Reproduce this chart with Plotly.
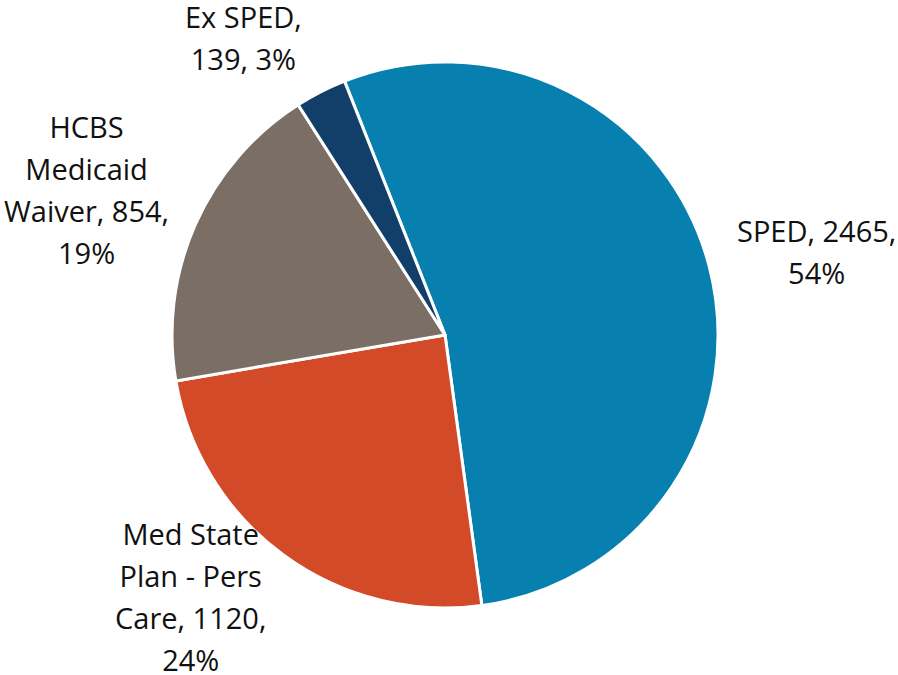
import plotly.graph_objects as go

labels = ["SPED", "Med State Plan - Pers Care", "HCBS Medicaid Waiver", "Ex SPED"]
values = [2465, 1120, 854, 139]
colors = ["#0780AF", "#D24A27", "#7A6E65", "#123F6A"]
# how each data label is broken into lines on the chart
label_templates = ["SPED, {v},<br>{p}%",
                   "Med State<br>Plan - Pers<br>Care, {v},<br>{p}%",
                   "HCBS<br>Medicaid<br>Waiver, {v},<br>{p}%",
                   "Ex SPED,<br>{v}, {p}%"]
# where each data label sits (pixel centre of the text block)
label_pos = [(816, 251), (190, 596), (86, 190), (243, 38)]

W, H = 898, 675
total = sum(values)

fig = go.Figure(go.Pie(
    labels=labels,
    values=values,
    sort=False,
    direction="clockwise",
    rotation=-21.6,
    marker=dict(colors=colors, line=dict(color="white", width=3)),
    textinfo="none",
    showlegend=False,
    hoverinfo="label+value+percent",
    domain=dict(x=[172 / W, 718 / W], y=[1 - 608 / H, 1 - 62 / H]),
))

for lab, v, tmpl, (px, py) in zip(labels, values, label_templates, label_pos):
    txt = tmpl.format(v=v, p=round(100 * v / total))
    txt = "<br>".join("<span style='font-size:29px'>%s</span>" % ln for ln in txt.split("<br>"))
    fig.add_annotation(
        x=px / W, y=1 - py / H, xref="paper", yref="paper",
        xanchor="center", yanchor="middle", align="center",
        text=txt, showarrow=False,
        font=dict(family="Open Sans", size=32.3, color="#111111"),
    )

fig.update_layout(
    width=W, height=H,
    margin=dict(l=0, r=0, t=0, b=0),
    paper_bgcolor="white",
    plot_bgcolor="white",
)

fig.write_html("out.html", config={"displayModeBar": False},
               post_script="document.body.style.margin='0px';")
